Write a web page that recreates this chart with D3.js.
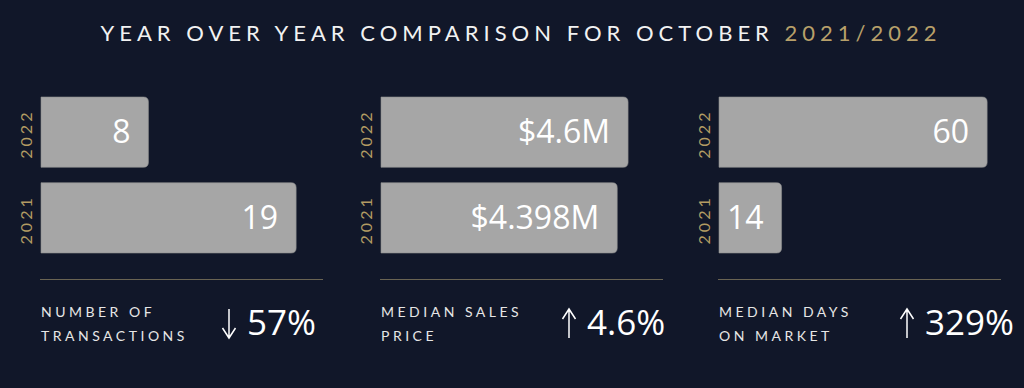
<!DOCTYPE html>
<html>
<head>
<meta charset="utf-8">
<style>
  body { margin:0; background:#111729; }
  svg { display:block; }
  .title { font-family: Lato, sans-serif; font-size:22px; fill:#f2f2f2; letter-spacing:5px; }
  .title .yrs { fill:#b8a06a; }
  .yr { font-family: Lato, sans-serif; font-size:16px; fill:#b39c63; letter-spacing:3px; }
  .val { font-family: "Open Sans", sans-serif; font-size:32px; fill:#ffffff; }
  .lbl { font-family: Lato, sans-serif; font-size:14px; fill:#e6e6e6; letter-spacing:3.5px; }
  .pct { font-family: "Open Sans", sans-serif; font-size:35px; fill:#ffffff; }
</style>
<script src="https://d3js.org/d3.v7.min.js"></script>
</head>
<body>
<div class="container"></div>
<script>
// data
var years = ["2022", "2021"];
var values2022 = [8, 4.6, 60];
var values2021 = [19, 4.398, 14];
var valueLabels2022 = ["8", "$4.6M", "60"];
var valueLabels2021 = ["19", "$4.398M", "14"];
var domainMax = [21, 5.25, 63.1];
var metricLines = [["NUMBER OF", "TRANSACTIONS"], ["MEDIAN SALES", "PRICE"], ["MEDIAN DAYS", "ON MARKET"]];
var changes = ["57%", "4.6%", "329%"];
var directions = ["down", "up", "up"];

var width = 1024, height = 388;
var panelX = [41, 381, 719], panelW = 282;

var svg = d3.select(".container").append("svg")
  .attr("width", width).attr("height", height);

svg.append("rect").attr("width", width).attr("height", height).attr("fill", "#111729");

// title
var t = svg.append("text").attr("class", "title")
  .attr("x", 521).attr("y", 41).attr("text-anchor", "middle");
t.append("tspan").text("YEAR OVER YEAR COMPARISON FOR OCTOBER ");
t.append("tspan").attr("class", "yrs").text("2021/2022");

var y = d3.scaleBand().domain(years).range([97, 253]).paddingInner(0.18);

function barPath(x0, x1, y0, h, r) {
  return "M" + x0 + "," + y0 + "H" + (x1 - r) + "Q" + x1 + "," + y0 + " " + x1 + "," + (y0 + r) +
    "V" + (y0 + h - r) + "Q" + x1 + "," + (y0 + h) + " " + (x1 - r) + "," + (y0 + h) + "H" + x0 + "Z";
}

panelX.forEach(function(px, i) {
  var x = d3.scaleLinear().domain([0, domainMax[i]]).range([px, px + panelW]);
  var g = svg.append("g");
  var rows = [
    {year: "2022", v: values2022[i], lab: valueLabels2022[i]},
    {year: "2021", v: values2021[i], lab: valueLabels2021[i]}
  ];

  g.selectAll(".bar").data(rows).enter().append("path")
    .attr("class", "bar")
    .attr("d", function(d) { return barPath(x(0), x(d.v), y(d.year), y.bandwidth(), 5); })
    .attr("fill", "#a6a6a6")
    .attr("stroke", "#8e8e8e").attr("stroke-width", 0.6);

  g.selectAll(".val").data(rows).enter().append("text")
    .attr("class", "val")
    .attr("x", function(d) { return x(d.v) - 18; })
    .attr("y", function(d) { return y(d.year) + y.bandwidth() / 2 + 11; })
    .attr("text-anchor", "end")
    .text(function(d) { return d.lab; });

  g.selectAll(".yr").data(rows).enter().append("text")
    .attr("class", "yr")
    .attr("text-anchor", "middle")
    .attr("transform", function(d) {
      return "translate(" + (px - 9) + "," + (y(d.year) + y.bandwidth() / 2 + 2) + ") rotate(-90)";
    })
    .text(function(d) { return d.year; });

  // separator
  g.append("line")
    .attr("x1", px - 1).attr("x2", px + panelW)
    .attr("y1", 279.5).attr("y2", 279.5)
    .attr("stroke", "#6a6453").attr("stroke-width", 1);

  // metric label
  g.selectAll(".lbl").data(metricLines[i]).enter().append("text")
    .attr("class", "lbl")
    .attr("x", px).attr("y", function(d, j) { return 317 + j * 23.5; })
    .text(function(d) { return d; });

  // arrow
  var ax = px + 188, top = 309, bot = 338;
  var ad = directions[i] == "down"
    ? "M" + ax + "," + top + "V" + bot + "M" + (ax - 6.5) + "," + (bot - 10) + "L" + ax + "," + bot + "L" + (ax + 6.5) + "," + (bot - 10)
    : "M" + ax + "," + bot + "V" + top + "M" + (ax - 6.5) + "," + (top + 10) + "L" + ax + "," + top + "L" + (ax + 6.5) + "," + (top + 10);
  g.append("path").attr("d", ad)
    .attr("fill", "none").attr("stroke", "#ffffff").attr("stroke-width", 1.5);

  g.append("text").attr("class", "pct")
    .attr("x", px + 206).attr("y", 335)
    .text(changes[i]);
});
</script>
</body>
</html>
